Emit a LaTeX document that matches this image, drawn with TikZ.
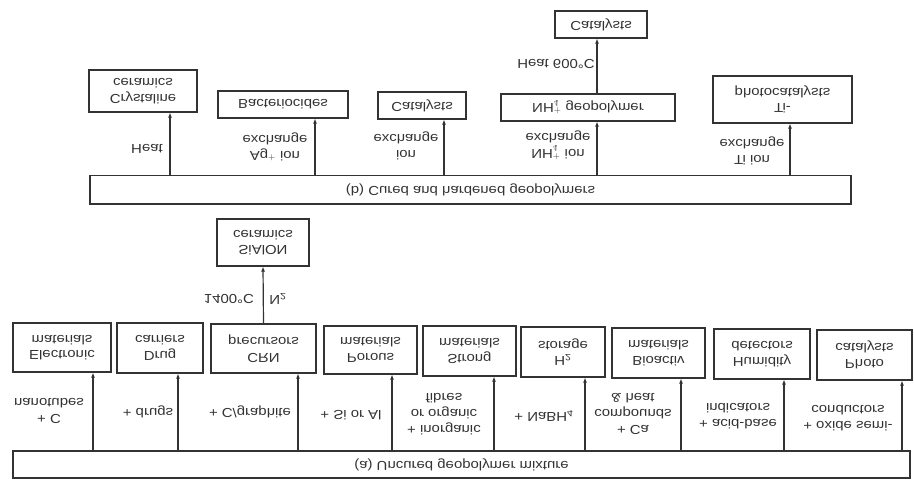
\documentclass[tikz,border=0pt]{standalone}
\usepackage{fontspec}
\setmainfont{Liberation Sans}[FakeStretch=1.15]
\usetikzlibrary{arrows.meta}
\definecolor{ink}{HTML}{333333}
\begin{document}
\begin{tikzpicture}[x=1pt,y=1pt,yscale=-1,transform shape,
  box/.style 2 args={draw=ink,line width=1.2pt,text=ink,align=center,inner sep=0pt,
    minimum width=#1,minimum height=#2,font=\fontsize{13}{15.5}\selectfont},
  lab/.style={text=ink,align=center,inner sep=0pt,font=\fontsize{13}{16}\selectfont},
  arr/.style={draw=ink,line width=1.2pt,-{Latex[length=5pt,width=4pt]}}]
\useasboundingbox[fill=white] (0,0) rectangle (914,481);

% ---------- (a) uncured ----------
\node[box={897}{27}] (barA) at (461.5,464.5) {(a) Uncured geopolymer mixture};
\node[box={98}{49}]  (el)   at (62,347.5)    {Electronic\\materials};
\node[box={86}{50}]  (drug) at (160,348)     {Drug\\carriers};
\node[box={105}{49}] (crn)  at (263.5,348.5) {CRN\\precursors};
\node[box={93}{48}]  (por)  at (370.5,350)   {Porous\\materials};
\node[box={93}{50}]  (str)  at (469.5,351)   {Strong\\materials};
\node[box={84}{50}]  (hyd)  at (563,352)     {H\textsubscript{2}\\storage};
\node[box={93}{50}]  (bio)  at (658.5,353)   {Bioactiv\\materials};
\node[box={96}{50}]  (hum)  at (762,354)     {Humidity\\detectors};
\node[box={95}{50}]  (pho)  at (864.5,355)   {Photo\\catalysts};
\node[box={92}{47}]  (sia)  at (263,242.5)   {SiAlON\\ceramics};

\coordinate (a1) at (93,0);
\coordinate (a2) at (178,0);
\coordinate (a3) at (298,0);
\coordinate (a4) at (392,0);
\coordinate (a5) at (494,0);
\coordinate (a6) at (585,0);
\coordinate (a7) at (681,0);
\coordinate (a8) at (784,0);
\coordinate (a9) at (902,0);
\draw[arr] (barA.south -| a1) -- (el.north -| a1);
\draw[arr] (barA.south -| a2) -- (drug.north -| a2);
\draw[arr] (barA.south -| a3) -- (crn.north -| a3);
\draw[arr] (barA.south -| a4) -- (por.north -| a4);
\draw[arr] (barA.south -| a5) -- (str.north -| a5);
\draw[arr] (barA.south -| a6) -- (hyd.north -| a6);
\draw[arr] (barA.south -| a7) -- (bio.north -| a7);
\draw[arr] (barA.south -| a8) -- (hum.north -| a8);
\draw[arr] (barA.south -| a9) -- (pho.north -| a9);
\draw[arr] (crn.south) -- (sia.north);

\node[lab] (l1) at (49,411)  {+ C\\nanotubes};
\node[lab] (l2) at (148,412) {+ drugs};
\node[lab] (l3) at (250,412) {+ C/graphite};
\node[lab] (l4) at (351,415) {+ Si or Al};
\node[lab] (l5) at (444,414) {+ inorganic\\or organic\\fibres};
\node[lab] (l6) at (544,416) {+ NaBH\textsubscript{4}};
\node[lab] (l7) at (633,414) {+ Ca\\compounds\\\& heat};
\node[lab] (l8) at (738,416) {+ acid-base\\indicators};
\node[lab] (l9) at (848,418) {+ oxide semi-\\conductors};
\node[lab] (l10) at (229,299) {1400°C};
\node[lab] (l11) at (278,299) {N\textsubscript{2}};

% ---------- (b) cured ----------
\node[box={761}{28.5}] (barB) at (470.5,189.75) {(b) Cured and hardened geopolymers};
\node[box={108}{42}] (cry)  at (143,91)     {Crystaline\\ceramics};
\node[box={130}{27}] (bac)  at (283,104.5)  {Bacteriocides};
\node[box={88}{27}]  (cat1) at (422,105.5)  {Catalysts};
\node[box={174}{27}] (nh)   at (588,107.5)  {NH$_4^+$ geopolymer};
\node[box={92}{27}]  (cat2) at (601,24.5)   {Catalysts};
\node[box={139}{47}] (ti)   at (782.5,99.5) {Ti-\\photocatalysts};

\coordinate (b1) at (170,0);
\coordinate (b2) at (315,0);
\coordinate (b3) at (444,0);
\coordinate (b4) at (597,0);
\coordinate (b5) at (790,0);
\draw[arr] (barB.south -| b1) -- (cry.north -| b1);
\draw[arr] (barB.south -| b2) -- (bac.north -| b2);
\draw[arr] (barB.south -| b3) -- (cat1.north -| b3);
\draw[arr] (barB.south -| b4) -- (nh.north -| b4);
\draw[arr] (barB.south -| b5) -- (ti.north -| b5);
\draw[arr] (nh.south -| b4) -- (cat2.north -| b4);

\node[lab] (m1) at (147,149) {Heat};
\node[lab] (m2) at (275,147) {Ag$^+$ ion\\exchange};
\node[lab] (m3) at (406,146) {ion\\exchange};
\node[lab] (m4) at (558,145) {NH$_4^+$ ion\\exchange};
\node[lab] (m5) at (556,64)  {Heat 600°C};
\node[lab] (m6) at (752,151) {Ti ion\\exchange};
\end{tikzpicture}
\end{document}
